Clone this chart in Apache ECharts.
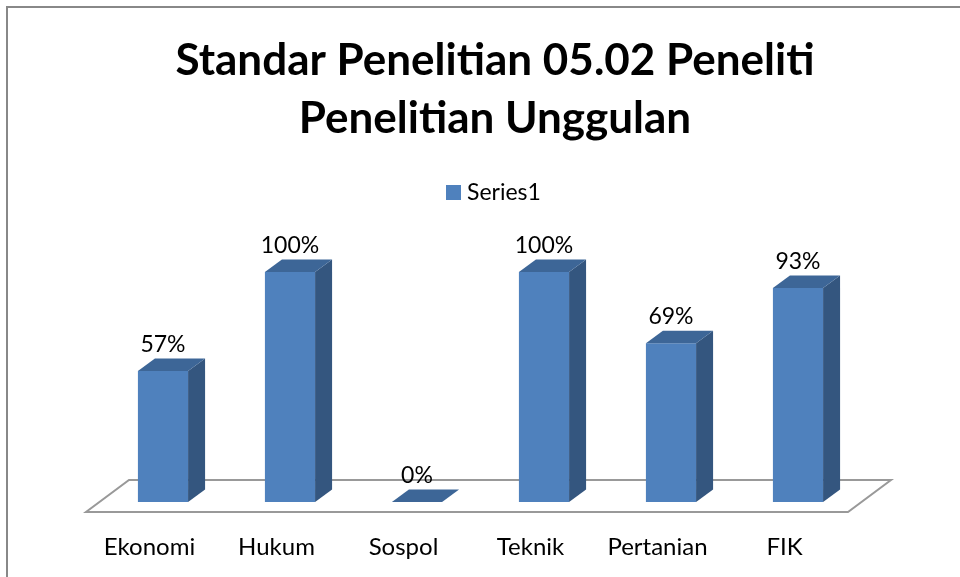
<!DOCTYPE html>
<html>
<head>
<meta charset="utf-8">
<script src="https://cdn.jsdelivr.net/npm/echarts@6/dist/echarts.min.js"></script>
<style>
  html, body { margin: 0; padding: 0; background: #fff; }
  #chart { width: 960px; height: 577px; }
</style>
</head>
<body>
<div id="chart"></div>
<script>
var categories = ['Ekonomi', 'Hukum', 'Sospol', 'Teknik', 'Pertanian', 'FIK'];
var values = [57, 100, 0, 100, 69, 93];
var seriesName = 'Series1';

(function () {
  var front = '#4F81BD';
  var side = '#34567F';
  var top = '#3D6697';
  var font = 'Lato, "Open Sans", sans-serif';

  // 3D look: bars sit a bit behind the floor's front edge
  var ox = 13.5, oy = -10;
  var dx = 17, dy = -12.5;
  var floorDx = 43, floorDy = -32;

  function renderFloor(params, api) {
    var cs = params.coordSys;
    var x0 = cs.x, x1 = cs.x + cs.width, y0 = cs.y + cs.height;
    return {
      type: 'polygon',
      shape: { points: [[x0, y0], [x1, y0], [x1 + floorDx, y0 + floorDy], [x0 + floorDx, y0 + floorDy]] },
      style: { fill: '#fff', stroke: '#999', lineWidth: 2 },
      silent: true
    };
  }

  function renderBar(params, api) {
    var i = api.value(0);
    var v = api.value(1);
    var ptTop = api.coord([i, v]);
    var ptBase = api.coord([i, 0]);
    var bw = api.size([1, 0])[0] * 0.395;
    var x0 = ptTop[0] - bw / 2 + ox;
    var x1 = x0 + bw;
    var yt = ptTop[1] + oy;
    var yb = ptBase[1] + oy;
    var children = [];
    if (yb - yt > 0.5) {
      children.push({
        type: 'rect',
        shape: { x: x0, y: yt, width: bw, height: yb - yt },
        style: { fill: front }
      });
      children.push({
        type: 'polygon',
        shape: { points: [[x1, yt], [x1 + dx, yt + dy], [x1 + dx, yb + dy], [x1, yb]] },
        style: { fill: side }
      });
    }
    children.push({
      type: 'polygon',
      shape: { points: [[x0, yt], [x0 + dx, yt + dy], [x1 + dx, yt + dy], [x1, yt]] },
      style: { fill: top }
    });
    children.push({
      type: 'text',
      style: {
        x: x0 + bw / 2, y: yt + dy - 14,
        text: v + '%',
        font: '23px ' + font,
        fill: '#000',
        align: 'center',
        verticalAlign: 'middle'
      }
    });
    return { type: 'group', children: children };
  }

  var chart = echarts.init(document.getElementById('chart'), null, { renderer: 'canvas' });
  chart.setOption({
    animation: false,
    color: [front],
    title: {
      text: 'Standar Penelitian 05.02 Peneliti\nPenelitian Unggulan',
      left: 490,
      textAlign: 'center',
      top: 27,
      textStyle: {
        fontFamily: font,
        fontSize: 44,
        fontWeight: 'bold',
        color: '#000',
        lineHeight: 58
      }
    },
    legend: {
      data: [seriesName],
      top: 181,
      left: 446,
      padding: 0,
      icon: 'rect',
      itemWidth: 15,
      itemHeight: 15,
      itemGap: 6,
      textStyle: { fontFamily: font, fontSize: 23, color: '#000', padding: [0, 0, 0, 1] }
    },
    graphic: [{
      type: 'rect',
      shape: { x: 7, y: 7, width: 1000, height: 640 },
      style: { fill: 'none', stroke: '#888', lineWidth: 2 },
      silent: true,
      z: -10
    }],
    grid: { left: 86, right: 112, top: 282, bottom: 65 },
    xAxis: {
      type: 'category',
      data: categories,
      axisLine: { show: false },
      axisTick: { show: false },
      axisLabel: {
        interval: 0,
        hideOverlap: false,
        margin: 23,
        fontFamily: font,
        fontSize: 24,
        color: '#000'
      }
    },
    yAxis: {
      type: 'value',
      min: 0,
      max: 100,
      show: false,
      splitLine: { show: false }
    },
    series: [{
      name: 'floor',
      type: 'custom',
      renderItem: renderFloor,
      data: [[0, 0]],
      silent: true,
      z: 1
    }, {
      name: seriesName,
      type: 'custom',
      renderItem: renderBar,
      encode: { x: 0, y: 1 },
      data: values.map(function (v, i) { return [i, v]; }),
      z: 2
    }]
  });
  window.addEventListener('resize', function () { chart.resize(); });
})();
</script>
</body>
</html>
